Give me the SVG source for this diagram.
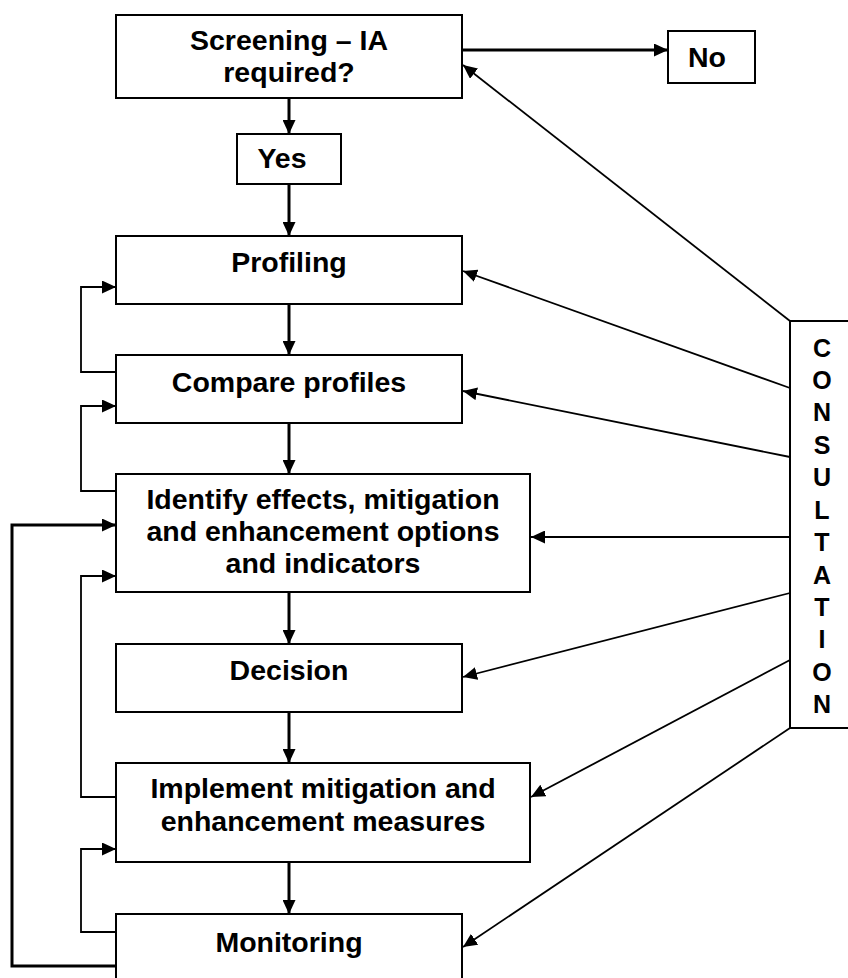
<svg xmlns="http://www.w3.org/2000/svg" width="848" height="978" viewBox="0 0 848 978">
<style>
.box{fill:#fff;stroke:#000;stroke-width:2}
.t{font-family:"Liberation Sans",Arial,sans-serif;font-weight:bold;font-size:28.5px;text-anchor:middle;fill:#000}
.c{font-family:"Liberation Sans",Arial,sans-serif;font-weight:bold;font-size:25px;text-anchor:middle;fill:#000}
.thick{fill:none;stroke:#000;stroke-width:3}
.thin{fill:none;stroke:#000;stroke-width:1.8}
</style>
<defs>
<marker id="ah" markerUnits="userSpaceOnUse" markerWidth="14" markerHeight="13" refX="14" refY="6.5" orient="auto">
<path d="M0,0 L14,6.5 L0,13 z" fill="#000"/>
</marker>
</defs>
<rect width="848" height="978" fill="#fff"/>
<g id="connectors">
<line class="thick" x1="462" y1="50" x2="668" y2="50" marker-end="url(#ah)"/>
<line class="thick" x1="289" y1="98" x2="289" y2="134" marker-end="url(#ah)"/>
<line class="thick" x1="289" y1="184" x2="289" y2="236" marker-end="url(#ah)"/>
<line class="thick" x1="289" y1="304" x2="289" y2="355" marker-end="url(#ah)"/>
<line class="thick" x1="289" y1="423" x2="289" y2="474" marker-end="url(#ah)"/>
<line class="thick" x1="289" y1="592" x2="289" y2="644" marker-end="url(#ah)"/>
<line class="thick" x1="289" y1="712" x2="289" y2="763" marker-end="url(#ah)"/>
<line class="thick" x1="289" y1="862" x2="289" y2="914" marker-end="url(#ah)"/>
<polyline class="thin" points="116,372 81,372 81,287 116,287" marker-end="url(#ah)"/>
<polyline class="thin" points="116,491 81,491 81,406 116,406" marker-end="url(#ah)"/>
<polyline class="thin" points="116,797 81,797 81,576 116,576" marker-end="url(#ah)"/>
<polyline class="thin" points="116,932 81,932 81,849 116,849" marker-end="url(#ah)"/>
<polyline class="thick" points="116,966 12,966 12,525 116,525" marker-end="url(#ah)"/>
<line class="thin" x1="790" y1="321" x2="463" y2="65" marker-end="url(#ah)"/>
<line class="thin" x1="790" y1="388" x2="463" y2="271" marker-end="url(#ah)"/>
<line class="thin" x1="790" y1="457" x2="463" y2="391" marker-end="url(#ah)"/>
<line class="thin" x1="790" y1="537" x2="531" y2="537" marker-end="url(#ah)"/>
<line class="thin" x1="790" y1="593" x2="463" y2="677" marker-end="url(#ah)"/>
<line class="thin" x1="790" y1="660" x2="531" y2="797" marker-end="url(#ah)"/>
<line class="thin" x1="790" y1="728" x2="463" y2="947" marker-end="url(#ah)"/>
</g>
<g id="screening">
<rect class="box" x="116" y="15" width="346" height="83"/>
<text class="t" x="289" y="50">Screening – IA</text>
<text class="t" x="289" y="82">required?</text>
</g>
<g id="no">
<rect class="box" x="668" y="31" width="87" height="52"/>
<text class="t" x="707" y="67">No</text>
</g>
<g id="yes">
<rect class="box" x="237" y="134" width="104" height="50"/>
<text class="t" x="282" y="168">Yes</text>
</g>
<g id="profiling">
<rect class="box" x="116" y="236" width="346" height="68"/>
<text class="t" x="289" y="272">Profiling</text>
</g>
<g id="compare">
<rect class="box" x="116" y="355" width="346" height="68"/>
<text class="t" x="289" y="392">Compare profiles</text>
</g>
<g id="identify">
<rect class="box" x="116" y="474" width="414" height="118"/>
<text class="t" x="323" y="509">Identify effects, mitigation</text>
<text class="t" x="323" y="541">and enhancement options</text>
<text class="t" x="323" y="573">and indicators</text>
</g>
<g id="decision">
<rect class="box" x="116" y="644" width="346" height="68"/>
<text class="t" x="289" y="680">Decision</text>
</g>
<g id="implement">
<rect class="box" x="116" y="763" width="414" height="99"/>
<text class="t" x="323" y="798">Implement mitigation and</text>
<text class="t" x="323" y="831">enhancement measures</text>
</g>
<g id="monitoring">
<rect class="box" x="116" y="914" width="346" height="80"/>
<text class="t" x="289" y="952">Monitoring</text>
</g>
<g id="consultation">
<rect class="box" x="790" y="321" width="70" height="407"/>
<text class="c" x="822" y="357">C</text>
<text class="c" x="822" y="389">O</text>
<text class="c" x="822" y="421">N</text>
<text class="c" x="822" y="454">S</text>
<text class="c" x="822" y="486">U</text>
<text class="c" x="822" y="519">L</text>
<text class="c" x="822" y="551">T</text>
<text class="c" x="822" y="584">A</text>
<text class="c" x="822" y="616">T</text>
<text class="c" x="822" y="648">I</text>
<text class="c" x="822" y="681">O</text>
<text class="c" x="822" y="713">N</text>
</g>
</svg>
